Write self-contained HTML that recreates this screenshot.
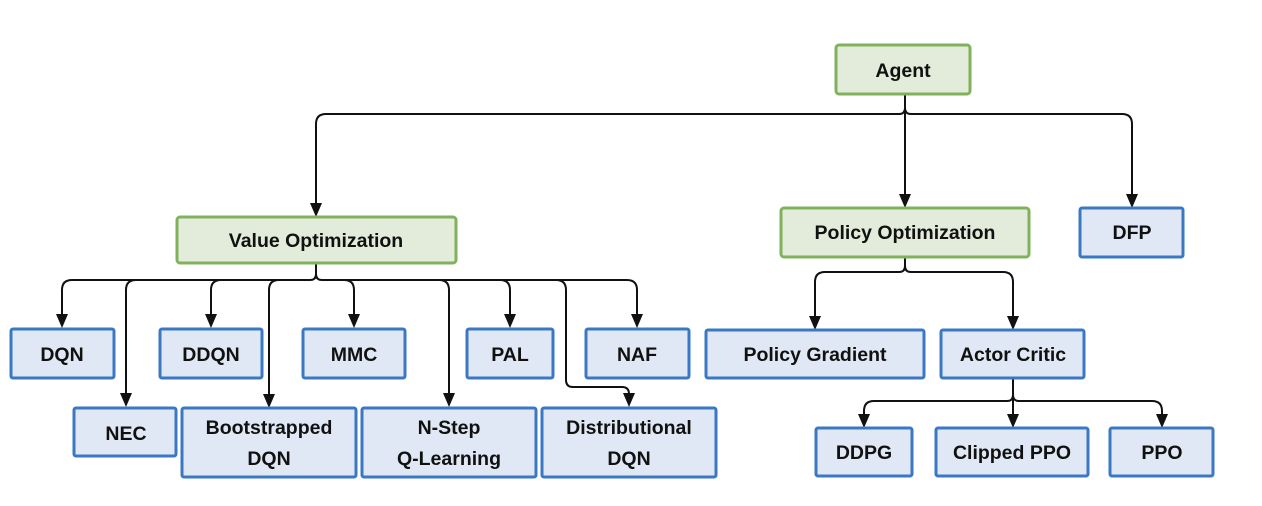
<!DOCTYPE html>
<html><head><meta charset="utf-8"><style>
html,body{margin:0;padding:0;background:#fff;}
svg{display:block;}
text{font-family:"Liberation Sans",sans-serif;font-weight:bold;font-size:19.5px;fill:#111;text-anchor:middle;}
.b{fill:#dfe8f4;stroke:#3b78c3;stroke-width:3;}
.g{fill:#e3ecda;stroke:#80b25c;stroke-width:3;}
.l{fill:none;stroke:#111;stroke-width:2;}
</style></head><body>
<svg width="1262" height="506" viewBox="0 0 1262 506" xmlns="http://www.w3.org/2000/svg">
<g id="lines">
<path class="l" d="M905,94 V108 Q905,114 899,114 H326 Q316,114 316,124 V204"/>
<path class="l" d="M905,94 V108 Q905,114 911,114 H1122 Q1132,114 1132,124 V196"/>
<path class="l" d="M905,94 V196"/>
<path class="l" d="M905,257 V266 Q905,272 899,272 H825 Q815,272 815,282 V318"/>
<path class="l" d="M905,257 V266 Q905,272 911,272 H1003 Q1013,272 1013,282 V318"/>
<path class="l" d="M1013,378 V395 Q1013,401 1007,401 H874 Q864,401 864,411 V416"/>
<path class="l" d="M1013,378 V395 Q1013,401 1019,401 H1152 Q1162,401 1162,411 V416"/>
<path class="l" d="M1013,378 V416"/>
<path class="l" d="M316,263 V274 Q316,280 310,280 H72 Q62,280 62,290 V315"/>
<path class="l" d="M310,280 H136 Q126,280 126,290 V395"/>
<path class="l" d="M310,280 H221 Q211,280 211,290 V315"/>
<path class="l" d="M310,280 H279 Q269,280 269,290 V396"/>
<path class="l" d="M316,263 V274 Q316,280 322,280 H344 Q354,280 354,290 V315"/>
<path class="l" d="M322,280 H439 Q449,280 449,290 V395"/>
<path class="l" d="M322,280 H500 Q510,280 510,290 V315"/>
<path class="l" d="M322,280 H556 Q566,280 566,290 V380 Q566,387 573,387 H622 Q629,387 629,394 V395"/>
<path class="l" d="M322,280 H627 Q637,280 637,290 V315"/>
</g>
<g fill="#111">
<path d="M310,203 L322,203 L316,217 Z"/>
<path d="M899,194 L911,194 L905,208 Z"/>
<path d="M1126,194 L1138,194 L1132,208 Z"/>
<path d="M809,316 L821,316 L815,330 Z"/>
<path d="M1007,316 L1019,316 L1013,330 Z"/>
<path d="M858,414 L870,414 L864,428 Z"/>
<path d="M1007,414 L1019,414 L1013,428 Z"/>
<path d="M1156,414 L1168,414 L1162,428 Z"/>
<path d="M56,314 L68,314 L62,328 Z"/>
<path d="M120,393 L132,393 L126,407 Z"/>
<path d="M205,314 L217,314 L211,328 Z"/>
<path d="M263,394 L275,394 L269,408 Z"/>
<path d="M348,314 L360,314 L354,328 Z"/>
<path d="M443,393 L455,393 L449,407 Z"/>
<path d="M504,314 L516,314 L510,328 Z"/>
<path d="M623,393 L635,393 L629,407 Z"/>
<path d="M631,314 L643,314 L637,328 Z"/>
</g>
<rect class="g" x="836" y="45" width="134" height="49" rx="3"/><text x="903" y="77">Agent</text>
<rect class="g" x="177" y="217" width="279" height="46" rx="3"/><text x="316" y="247">Value Optimization</text>
<rect class="g" x="781" y="208" width="248" height="49" rx="3"/><text x="905" y="239">Policy Optimization</text>
<rect class="b" x="1080" y="208" width="103" height="49" rx="2"/><text x="1132" y="239">DFP</text>
<rect class="b" x="706" y="330" width="218" height="48" rx="2"/><text x="815" y="361">Policy Gradient</text>
<rect class="b" x="941" y="330" width="143" height="48" rx="2"/><text x="1013" y="361">Actor Critic</text>
<rect class="b" x="816" y="428" width="96" height="48" rx="2"/><text x="864" y="459">DDPG</text>
<rect class="b" x="936" y="428" width="152" height="48" rx="2"/><text x="1012" y="459">Clipped PPO</text>
<rect class="b" x="1110" y="428" width="103" height="48" rx="2"/><text x="1162" y="459">PPO</text>
<rect class="b" x="11" y="329" width="103" height="49" rx="2"/><text x="62" y="361">DQN</text>
<rect class="b" x="160" y="329" width="102" height="49" rx="2"/><text x="211" y="361">DDQN</text>
<rect class="b" x="303" y="329" width="102" height="49" rx="2"/><text x="354" y="361">MMC</text>
<rect class="b" x="467" y="329" width="86" height="49" rx="2"/><text x="510" y="361">PAL</text>
<rect class="b" x="586" y="329" width="103" height="49" rx="2"/><text x="637" y="361">NAF</text>
<rect class="b" x="74" y="408" width="102" height="48" rx="2"/><text x="126" y="440">NEC</text>
<rect class="b" x="182" y="408" width="174" height="69" rx="2"/><text x="269" y="434">Bootstrapped</text><text x="269" y="465">DQN</text>
<rect class="b" x="362" y="408" width="174" height="69" rx="2"/><text x="449" y="434">N-Step</text><text x="449" y="465">Q-Learning</text>
<rect class="b" x="542" y="408" width="174" height="69" rx="2"/><text x="629" y="434">Distributional</text><text x="629" y="465">DQN</text>
</svg>
</body></html>
